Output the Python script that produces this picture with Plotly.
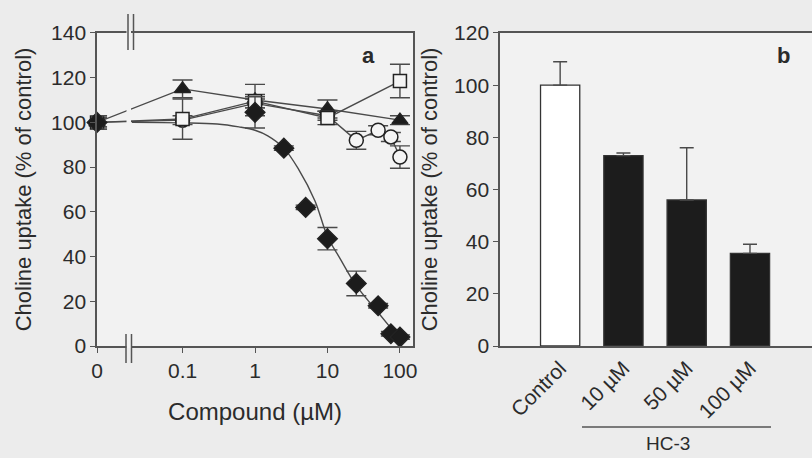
import plotly.graph_objects as go

# ---------------- data: panel a ----------------
ZERO_X = 10 ** -2.18  # position where the "0" concentration is drawn on the log axis

tri_x = [ZERO_X, 0.1, 1, 10, 100]
tri_y = [100, 115, 110, 106, 101]
tri_err = [3, 4, 7, 4, 2]

sq_x = [ZERO_X, 0.1, 1, 10, 100]
sq_y = [100, 101.5, 109.5, 102, 118.5]
sq_err = [2, 9, 3, 3, 7.5]

circ_x = [ZERO_X, 0.1, 1, 10, 25, 50, 75, 100]
circ_y = [100, 101, 108.5, 103, 92, 96.5, 93.5, 84.5]
circ_err = [2, 2, 2, 2, 4, 2, 2, 5]

dia_x = [ZERO_X, 1, 2.5, 5, 10, 25, 50, 75, 100]
dia_y = [100, 104.5, 88.5, 62, 48, 28, 18, 5.5, 4]
dia_err = [3, 7, 1, 1, 5, 5.5, 1, 1, 1]

fit_x = [0.02, 0.1, 0.3, 0.6, 1, 1.5, 2.5, 4, 6.7, 10, 15, 25, 50, 75, 100]
fit_y = [100, 99.8, 99.3, 98, 96.5, 94, 88.5, 79, 65, 49, 39, 27, 15, 8, 3]

x_tickvals = [ZERO_X, 0.1, 1, 10, 100]
x_ticktext = ["0", "0.1", "1", "10", "100"]

# ---------------- data: panel b ----------------
bar_cats = ["Control", "10 µM", "50 µM", "100 µM"]
bar_vals = [100, 73, 56, 35.5]
bar_errs = [9, 1, 20, 3.5]
bar_colors = ["#ffffff", "#1c1c1c", "#1c1c1c", "#1c1c1c"]

FONT = "Arial, Liberation Sans, sans-serif"
INK = "#2b2b2b"
LINE = "#4a4a4a"
PLOTBG = "#f2f2f2"

fig = go.Figure()

# fitted curve (diamond series)
fig.add_trace(go.Scatter(x=fit_x, y=fit_y, mode="lines", line=dict(color=LINE, width=1.4, shape="spline"),
                         xaxis="x", yaxis="y", hoverinfo="skip"))

def series(x, y, e, symbol, fill, size, lines=True):
    fig.add_trace(go.Scatter(
        x=x, y=y, mode="lines+markers" if lines else "markers",
        line=dict(color=LINE, width=1.4),
        marker=dict(symbol=symbol, size=size, color=fill, line=dict(color="#222222", width=1.5)),
        error_y=dict(type="data", array=e, color=LINE, thickness=1.4, width=10),
        cliponaxis=False, xaxis="x", yaxis="y"))

series(circ_x, circ_y, circ_err, "circle", "#f4f4f4", 14)
series(tri_x, tri_y, tri_err, "triangle-up", "#1c1c1c", 14)
series(sq_x, sq_y, sq_err, "square", "#f4f4f4", 13)
series(dia_x, dia_y, dia_err, "diamond", "#1c1c1c", 15, lines=False)

# panel b bars
fig.add_trace(go.Bar(x=bar_cats, y=bar_vals, width=0.62,
                     marker=dict(color=bar_colors, line=dict(color="#333333", width=1.3)),
                     error_y=dict(type="data", symmetric=False, array=bar_errs, arrayminus=[0, 0, 0, 0],
                                  color=LINE, thickness=1.4, width=7),
                     xaxis="x2", yaxis="y2"))

axis_common = dict(showline=True, linecolor="#555555", linewidth=1.5, showgrid=False, zeroline=False,
                   ticks="outside", ticklen=5, tickcolor="#555555", automargin=False,
                   tickfont=dict(family=FONT, size=21, color=INK))

YDOM = [0.2445, 0.928]

fig.update_layout(
    width=812, height=458, margin=dict(l=0, r=0, t=0, b=0, pad=0, autoexpand=False),
    paper_bgcolor="#ececec", plot_bgcolor=PLOTBG, showlegend=False,
    font=dict(family=FONT, color=INK),
    xaxis=dict(axis_common, type="log", range=[-2.18, 2.18], domain=[0.1195, 0.5086], anchor="y",
               tickvals=x_tickvals, ticktext=x_ticktext, mirror=True,
               title=dict(text="Compound (µM)", font=dict(size=24, color=INK), standoff=22)),
    yaxis=dict(axis_common, range=[0, 140], dtick=20, domain=YDOM, anchor="x", mirror=True,
               title=dict(text="Choline uptake (% of control)", font=dict(size=22, color=INK), standoff=13)),
    xaxis2=dict(axis_common, type="category", range=[-0.95, 3.98], domain=[0.6158, 1.0], anchor="y2",
                ticks="", tickangle=-45, mirror=True),
    yaxis2=dict(axis_common, range=[0, 120], dtick=20, domain=YDOM, anchor="x2",
                title=dict(text="Choline uptake (% of control)", font=dict(size=22, color=INK), standoff=10)),
)

W, H = 812.0, 458.0
def px(x):
    return x / W
def py(y):
    return 1 - y / H

shapes = []
# axis break on panel a (gap + double marks at top and bottom axes)
shapes.append(dict(type="rect", xref="paper", yref="paper", x0=px(126.5), x1=px(131), y0=py(348), y1=py(31),
                   fillcolor=PLOTBG, line=dict(width=0), layer="above"))
for xb in (126, 131.5):
    shapes.append(dict(type="line", xref="paper", yref="paper", x0=px(xb), x1=px(xb), y0=py(334), y1=py(363),
                       line=dict(color="#555555", width=1.5), layer="above"))
    shapes.append(dict(type="line", xref="paper", yref="paper", x0=px(xb + 2), x1=px(xb + 2), y0=py(14), y1=py(50),
                       line=dict(color="#555555", width=1.5), layer="above"))
# HC-3 group line
shapes.append(dict(type="line", xref="paper", yref="paper", x0=px(582), x1=px(771), y0=py(427), y1=py(427),
                   line=dict(color="#555555", width=1.5)))
fig.update_layout(shapes=shapes)

for txt, x, y, s in (("<b>a</b>", 368, 55, 22), ("<b>b</b>", 783, 55, 22), ("HC-3", 668, 443, 19)):
    fig.add_annotation(text=txt, xref="paper", yref="paper", x=px(x), y=py(y), showarrow=False,
                       xanchor="center", yanchor="middle", font=dict(size=s, color=INK))

fig.write_html("out.html", config={"displayModeBar": False},
               post_script="document.body.style.margin='0';")
